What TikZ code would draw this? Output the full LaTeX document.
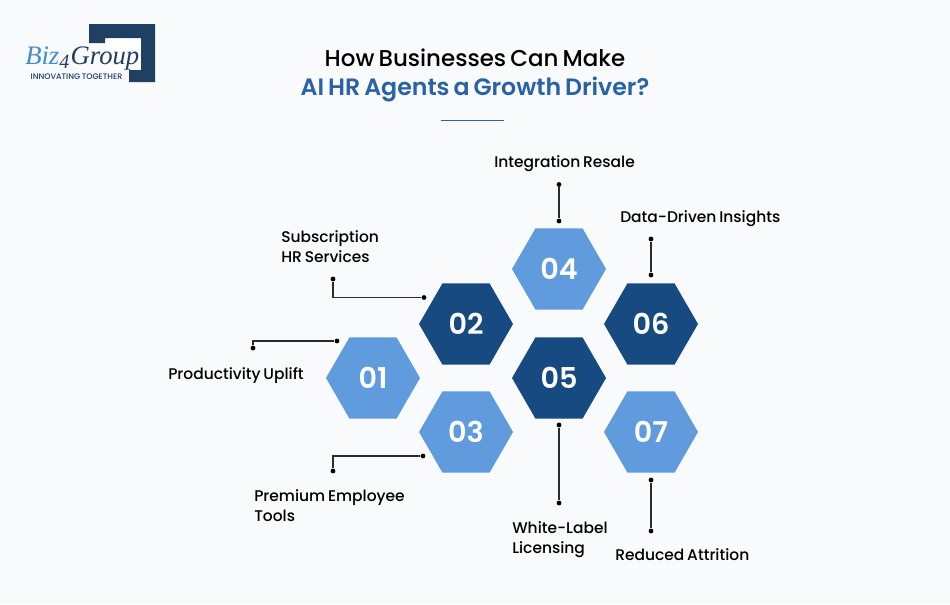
\documentclass[tikz,border=0pt]{standalone}
\usepackage{fontspec}
\setmainfont{Poppins}[UprightFont=* Medium, BoldFont=* SemiBold, WordSpace=0.7]
\usetikzlibrary{shapes.geometric}
\definecolor{pagebg}{HTML}{F8FAFC}
\definecolor{lightblue}{HTML}{5F9BDD}
\definecolor{darkblue}{HTML}{174A80}
\definecolor{titleblue}{HTML}{2A62A8}
\definecolor{logoblue}{HTML}{1F3F63}
\definecolor{logosky}{HTML}{3F8DD2}
\definecolor{inkgray}{HTML}{2B2B2B}

\begin{document}
\begin{tikzpicture}[x=0.75pt,y=-0.75pt]
        \tikzstyle{hexa}=[shape=regular polygon, regular polygon sides=6, minimum size=70.5pt, inner sep=0pt, text=white, font=\fontsize{21.5}{21.5}\selectfont\bfseries]
        \tikzstyle{light}=[hexa, fill=lightblue]
        \tikzstyle{dark}=[hexa, fill=darkblue]
        \tikzstyle{dot}=[circle, fill=black, inner sep=0pt, minimum size=3.6pt]
        \tikzstyle{edge}=[inkgray, line width=0.8pt]
        \tikzstyle{lbl}=[anchor=base west, inner sep=0pt, text=black, align=left, font=\fontsize{11.6}{14.8}\selectfont]

        \fill[pagebg] (0,0) rectangle (950,604);
        \useasboundingbox (0,0) rectangle (950,604);

        \fill[white] (105,38) rectangle (141,70);
        \fill[logoblue] (89,24) -- (155,24) -- (155,82) -- (129,82) -- (129,70) -- (141,70) -- (141,38) -- (105,38) -- (105,43) -- (89,43) -- cycle;
        \node[anchor=base west, inner sep=0pt, text=logoblue, font=\fontsize{20}{20}\selectfont\fontspec{Liberation Serif}\itshape] (logo) at (25,64) {{\color{logosky}Biz}\raisebox{-3pt}{\fontsize{15}{15}\selectfont 4}\kern1pt Group};
        \node[inner sep=0pt, text=logoblue, font=\fontsize{6}{6}\selectfont] (motto) at (76.5,76.5) {INNOVATING TOGETHER};

        \node[anchor=base, inner sep=0pt, text=black, font=\fontsize{17.2}{20}\selectfont] (title) at (475,66) {How Businesses Can Make};
        \node[anchor=base, inner sep=0pt, text=titleblue, font=\fontsize{17.75}{20}\selectfont\bfseries] (subtitle) at (475,95.5) {AI HR Agents a Growth Driver?};
        \coordinate (ruleL) at (441,120.5);
        \coordinate (ruleR) at (503.5,120.5);
        \draw[titleblue, line width=1.1pt] (ruleL) -- (ruleR);

        \node[light] (h1) at (373,378) {01};
        \node[dark]  (h2) at (466,324) {02};
        \node[light] (h3) at (466,432) {03};
        \node[light] (h4) at (559,269) {04};
        \node[dark]  (h5) at (559,378) {05};
        \node[dark]  (h6) at (651,324) {06};
        \node[light] (h7) at (651,432) {07};

        \node[dot] (d1a) at (253,348) {};
        \node[dot] (d1b) at (337,341) {};
        \node[dot] (d2a) at (333,279) {};
        \node[dot] (d2b) at (424,297.5) {};
        \node[dot] (d3a) at (333,471) {};
        \node[dot] (d3b) at (423,456) {};
        \node[dot] (d4a) at (559,184.5) {};
        \node[dot] (d4b) at (559,221) {};
        \node[dot] (d5a) at (559,425) {};
        \node[dot] (d5b) at (559,503) {};
        \node[dot] (d6a) at (651,239) {};
        \node[dot] (d6b) at (651,275) {};
        \node[dot] (d7a) at (651,480) {};
        \node[dot] (d7b) at (651,531) {};

        \draw[edge] (d1a) |- (d1b);
        \draw[edge] (d2a) |- (d2b);
        \draw[edge] (d3a) |- (d3b);
        \draw[edge] (d4a) -- (d4b);
        \draw[edge] (d5a) -- (d5b);
        \draw[edge] (d6a) -- (d6b);
        \draw[edge] (d7a) -- (d7b);

        \node[lbl] (l1) at (168,379) {Productivity Uplift};
        \node[lbl] (l2) at (281,262.7) {Subscription\\HR Services};
        \node[lbl] (l3) at (254,521) {Premium Employee\\Tools};
        \node[lbl] (l4) at (494,167.5) {Integration Resale};
        \node[lbl] (l5) at (512,553.5) {White-Label\\Licensing};
        \node[lbl] (l6) at (620,222.5) {Data-Driven Insights};
        \node[lbl] (l7) at (615,560) {Reduced Attrition};
    \end{tikzpicture}
\end{document}
